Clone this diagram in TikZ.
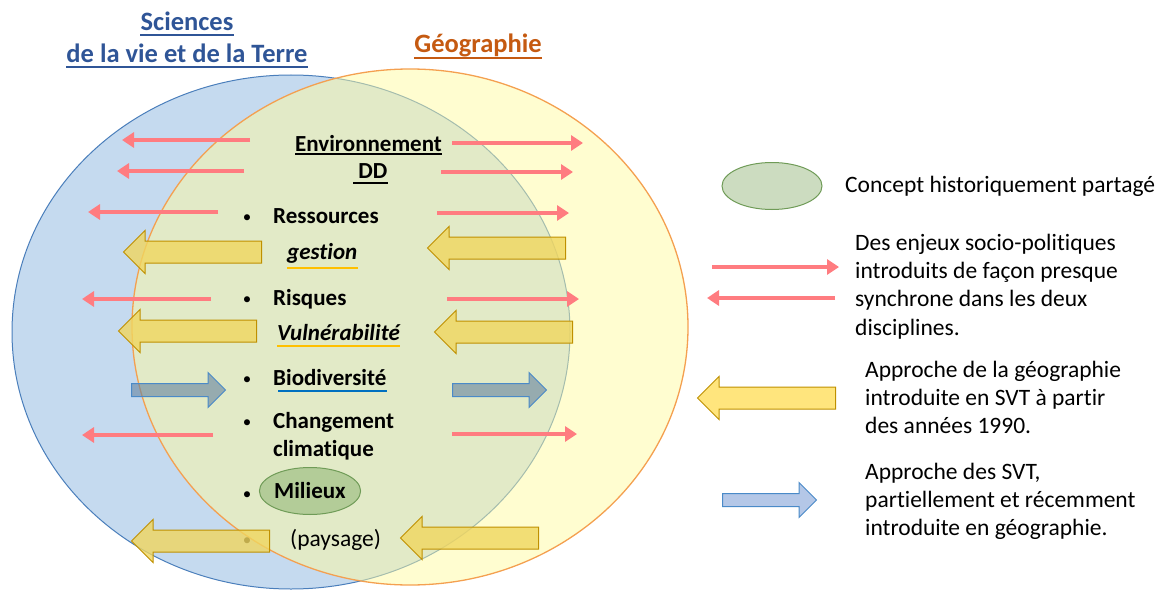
\documentclass[tikz,border=0pt]{standalone}
\usepackage{fontspec}
\setmainfont{Carlito}[Ligatures=NoCommon]
\usetikzlibrary{arrows.meta,shapes.arrows,shapes.geometric}

\definecolor{svtblue}{HTML}{2F5597}
\definecolor{geoorange}{HTML}{C55A11}
\definecolor{circblue}{HTML}{C5DAEF}
\definecolor{circblueline}{HTML}{4A7EBB}
\definecolor{circyellow}{RGB}{255,251,161}
\definecolor{circorange}{HTML}{F4A050}
\definecolor{pinkred}{HTML}{FF7C80}
\definecolor{arryellow}{RGB}{240,214,95}
\definecolor{legyellow}{HTML}{FFE57D}
\definecolor{arryellowline}{HTML}{BF9000}
\definecolor{arrblue}{RGB}{100,130,160}
\definecolor{legblue}{HTML}{B4C7E7}
\definecolor{arrblueline}{HTML}{4A8AC8}
\definecolor{golden}{HTML}{FFC000}
\definecolor{ulblue}{HTML}{0070C0}
\definecolor{milgreen}{HTML}{B3CC98}
\definecolor{leggreen}{HTML}{CCDCC0}
\definecolor{greenline}{HTML}{6F9B57}

\tikzset{
  lbl/.style={font=\fontsize{23.5}{28.3}\selectfont, inner sep=0pt, anchor=base west},
  blbl/.style={lbl, font=\fontsize{23}{28.3}\selectfont\bfseries},
  bilbl/.style={lbl, font=\fontsize{23}{28.3}\selectfont\bfseries\itshape},
  ttl/.style={blbl, anchor=base, font=\fontsize{26.5}{30}\selectfont\bfseries},
  bul/.style={lbl, anchor=base, font=\fontsize{17}{20}\selectfont},
  redarr/.style={draw=pinkred, line width=4pt, -{Triangle[width=15pt,length=12pt]}},
  yarrow/.style={single arrow, draw=arryellowline, fill=arryellow, fill opacity=0.8,
    line width=1pt, inner sep=0pt, text height=21pt, text depth=0pt, minimum height=138pt,
    single arrow head extend=10.5pt, shape border rotate=180, anchor=tail},
  barrow/.style={single arrow, draw=arrblueline, fill=arrblue, fill opacity=0.6,
    line width=1pt, inner sep=0pt, text height=12pt, text depth=0pt, minimum height=94pt,
    single arrow head extend=11pt, anchor=tail},
  concept/.style={ellipse, draw=greenline, line width=1pt, inner sep=0pt, minimum width=100pt, minimum height=47pt}
}

\begin{document}
\begin{tikzpicture}[x=1pt, y=-1pt]
    \useasboundingbox (0,0) rectangle (1160,594);

    % The two disciplines
    \fill[circblue, draw=circblueline, line width=1pt] (291,332) ellipse [x radius=279pt, y radius=257pt];
    \fill[circyellow, fill opacity=0.5, draw=circorange, line width=1.3pt] (410,327) ellipse [x radius=278pt, y radius=258pt];

    % Titles
    \node[ttl, text=svtblue] (svt1) at (187,31) {Sciences~};
    \node[ttl, text=svtblue] (svt2) at (187,63) {de la vie et de la Terre};
    \node[ttl, text=geoorange] (geo) at (478,53) {Géographie};
    \draw[svtblue, line width=1.5pt] ([yshift=-4pt]svt1.base west) -- ([yshift=-4pt]svt1.base east);
    \draw[svtblue, line width=1.5pt] ([yshift=-4pt]svt2.base west) -- ([yshift=-4pt]svt2.base east);
    \draw[geoorange, line width=1.5pt] ([yshift=-5pt]geo.base west) -- ([yshift=-5pt]geo.base east);

    % Shared concepts
    \node[blbl] (env) at (295,151) {Environnement};
    \node[blbl] (dd) at (353,178) {~DD};
    \draw[line width=1.5pt] ([yshift=-3pt]env.base west) -- ([yshift=-3pt]env.base east);
    \draw[line width=1.5pt] ([yshift=-5pt]dd.base west) -- ([yshift=-5pt]dd.base east);

    \node[bul] (bu1) at (247,222) {\textbullet};
    \node[blbl] (res) at (273,223) {Ressources};
    \node[bilbl] (ges) at (287,259) {gestion};
    \draw[golden, line width=2.5pt] ([yshift=-9pt]ges.base west) -- ([yshift=-9pt]ges.base east);

    \node[bul] (bu2) at (247,304) {\textbullet};
    \node[blbl] (ris) at (273,305) {Risques};
    \node[bilbl] (vul) at (277,340) {Vulnérabilité};
    \draw[golden, line width=2.5pt] ([yshift=-6pt]vul.base west) -- ([yshift=-6pt]vul.base east);

    \node[bul] (bu3) at (247,384) {\textbullet};
    \node[blbl] (bio) at (273,385) {Biodiversité};
    \draw[ulblue, line width=2.5pt] ([xshift=5pt,yshift=-6pt]bio.base west) -- ([yshift=-6pt]bio.base east);

    \node[bul] (bu4) at (247,427) {\textbullet};
    \node[blbl, anchor=north west, align=left] (chg) at (273,408.2) {\strut Changement\\climatique};

    \node[concept, fill=milgreen, font=\fontsize{23}{28.3}\selectfont\bfseries] (mil) at (310,491) {Milieux};
    \node[bul] (bu5) at (247,499) {\textbullet};

    \node[bul] (bu6) at (247,545) {\textbullet};
    \node[lbl] (pay) at (290,546) {(paysage)};

    % Socio-political stakes, both ways
    \draw[redarr] (250,140) -- (122,140);
    \draw[redarr] (244,171) -- (117,171);
    \draw[redarr] (218,212) -- (88,212);
    \draw[redarr] (211,299) -- (82,299);
    \draw[redarr] (213,435) -- (82,435);
    \draw[redarr] (452,143) -- (583,143);
    \draw[redarr] (441,172) -- (573,172);
    \draw[redarr] (437,213) -- (569,213);
    \draw[redarr] (447,299) -- (579,299);
    \draw[redarr] (452,434) -- (577,434);

    % Geography towards SVT
    \node[yarrow] (ga1) at (262,252) {};
    \node[yarrow] (ga2) at (257,331) {};
    \node[yarrow] (ga3) at (270,541) {};
    \node[yarrow] (ga4) at (566,248) {};
    \node[yarrow] (ga5) at (573,332) {};
    \node[yarrow] (ga6) at (539,538) {};

    % SVT towards geography
    \node[barrow] (sa1) at (131,390) {};
    \node[barrow] (sa2) at (452,390) {};

    % Legend
    \node[concept, fill=leggreen] (lconcept) at (772,186) {};
    \node[lbl] (tconcept) at (845,192) {Concept historiquement partagé};

    \draw[redarr] (712,267) -- (839,267);
    \draw[redarr] (835,298) -- (707,298);
    \node[lbl, anchor=north west, align=left] (tstake) at (855,230.2)
        {\strut Des enjeux socio-politiques\\introduits de façon presque\\synchrone dans les deux\\disciplines.};

    \node[yarrow, fill=legyellow, fill opacity=1] (lgeo) at (836,398) {};
    \node[lbl, anchor=north west, align=left] (tgeo) at (865,357.2)
        {\strut Approche de la géographie\\introduite en SVT à partir\\des années 1990.};

    \node[barrow, fill=legblue, fill opacity=1] (lsvt) at (722,500) {};
    \node[lbl, anchor=north west, align=left] (tsvt) at (865,459.2)
        {\strut Approche des SVT,\\partiellement et récemment\\introduite en géographie.};
\end{tikzpicture}
\end{document}
